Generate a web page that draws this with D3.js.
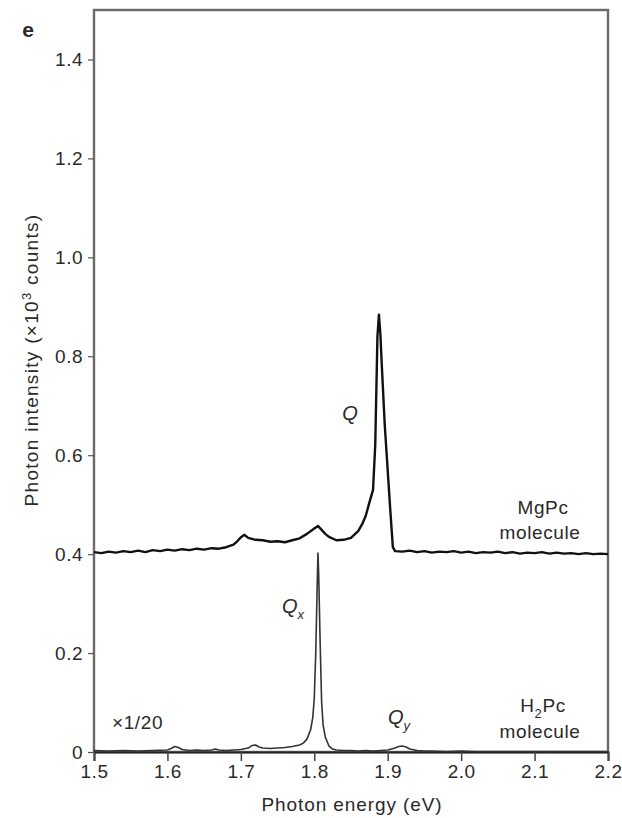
<!DOCTYPE html>
<html><head><meta charset="utf-8">
<script src="https://cdn.jsdelivr.net/npm/d3@7"></script>
<style>
body{margin:0;background:#fff;}
text{font-family:"Liberation Sans",Arial,sans-serif;fill:#2a2a2a;}
</style></head>
<body>
<svg id="c" width="622" height="818"></svg>
<script>
// Data
const xTicks = [1.5,1.6,1.7,1.8,1.9,2.0,2.1,2.2];
const yTicks = [0,0.2,0.4,0.6,0.8,1.0,1.2,1.4];
const yTickLabels = ["0","0.2","0.4","0.6","0.8","1.0","1.2","1.4"];

// MgPc molecule spectrum: [energy eV, intensity x10^3 counts]
const mgpcEnergy = [1.50,1.51,1.52,1.53,1.54,1.55,1.56,1.57,1.58,1.59,1.60,1.61,1.62,1.63,1.64,1.65,1.66,1.67,1.68,1.69,1.695,1.70,1.705,1.71,1.715,1.72,1.73,1.74,1.75,1.76,1.77,1.78,1.79,1.80,1.805,1.81,1.815,1.82,1.83,1.84,1.85,1.86,1.865,1.87,1.875,1.88,1.883,1.886,1.888,1.890,1.892,1.896,1.899,1.903,1.907,1.91,1.92,1.93,1.94,1.95,1.96,1.97,1.98,1.99,2.00,2.01,2.02,2.03,2.04,2.05,2.06,2.07,2.08,2.09,2.10,2.11,2.12,2.13,2.14,2.15,2.16,2.17,2.18,2.19,2.20];
const mgpcValues = [0.404,0.402,0.405,0.403,0.406,0.404,0.407,0.404,0.408,0.406,0.409,0.407,0.410,0.408,0.411,0.409,0.412,0.411,0.414,0.419,0.426,0.434,0.439,0.433,0.431,0.429,0.428,0.425,0.426,0.424,0.428,0.432,0.441,0.452,0.457,0.449,0.441,0.435,0.428,0.429,0.433,0.447,0.460,0.477,0.504,0.530,0.620,0.840,0.884,0.845,0.780,0.660,0.592,0.500,0.414,0.406,0.405,0.407,0.404,0.406,0.403,0.405,0.404,0.406,0.403,0.405,0.402,0.404,0.403,0.405,0.402,0.404,0.401,0.403,0.402,0.404,0.401,0.403,0.401,0.402,0.400,0.402,0.400,0.401,0.400];

// H2Pc molecule spectrum (x1/20)
const h2pcEnergy = [1.50,1.52,1.54,1.56,1.58,1.60,1.605,1.61,1.615,1.62,1.625,1.63,1.64,1.65,1.66,1.665,1.67,1.68,1.69,1.70,1.71,1.715,1.72,1.725,1.73,1.74,1.75,1.76,1.77,1.78,1.785,1.790,1.795,1.798,1.800,1.802,1.804,1.805,1.806,1.808,1.810,1.812,1.815,1.820,1.825,1.83,1.84,1.85,1.86,1.87,1.88,1.89,1.90,1.91,1.915,1.92,1.925,1.93,1.94,1.95,1.96,1.98,2.00,2.02,2.04,2.06,2.08,2.10,2.12,2.14,2.16,2.18,2.20];
const h2pcValues = [0.003,0.002,0.003,0.002,0.003,0.004,0.007,0.011,0.009,0.005,0.004,0.003,0.004,0.003,0.004,0.006,0.004,0.003,0.004,0.005,0.008,0.013,0.014,0.010,0.008,0.007,0.008,0.009,0.011,0.014,0.018,0.026,0.045,0.070,0.110,0.200,0.340,0.402,0.360,0.220,0.100,0.055,0.030,0.012,0.006,0.004,0.003,0.003,0.002,0.003,0.002,0.003,0.004,0.008,0.011,0.012,0.010,0.006,0.003,0.002,0.002,0.001,0.002,0.001,0.001,0.001,0.001,0.001,0.001,0.001,0.001,0.001,0.001];

const mgpc = mgpcEnergy.map((e,i)=>[e,mgpcValues[i]]);
const h2pc = h2pcEnergy.map((e,i)=>[e,h2pcValues[i]]);

const svg = d3.select("#c");
const L=94, R=608, T=10, B=752;
const FONT = "Liberation Sans, Arial, sans-serif";
const x = d3.scaleLinear().domain([1.5,2.2]).range([L,R]);
const y = d3.scaleLinear().domain([0,1.5]).range([B,T]);

// frame
svg.append("rect").attr("x",L).attr("y",T).attr("width",R-L).attr("height",B-T)
  .attr("fill","none").attr("stroke","#6a6a6a").attr("stroke-width",2.4);

// x axis
const xa = svg.append("g").attr("transform",`translate(0,${B})`)
  .call(d3.axisBottom(x).tickValues(xTicks).tickFormat(d3.format(".1f")).tickSize(9).tickPadding(4));
xa.select(".domain").attr("stroke","#222").attr("stroke-width",2);
xa.selectAll(".tick line").attr("stroke","#444").attr("stroke-width",1.5);
xa.selectAll(".tick text").attr("font-size",19).attr("font-family",FONT).attr("fill","#2a2a2a").attr("letter-spacing",0.5);

// y axis
const ya = svg.append("g").attr("transform",`translate(${L},0)`)
  .call(d3.axisLeft(y).tickValues(yTicks).tickFormat((d,i)=>yTickLabels[i]).tickSize(6).tickPadding(5));
ya.select(".domain").remove();
ya.selectAll(".tick line").attr("stroke","#555").attr("stroke-width",1.2);
ya.selectAll(".tick text").attr("font-size",19).attr("font-family",FONT).attr("fill","#2a2a2a").attr("letter-spacing",0.5);

const line = d3.line().x(d=>x(d[0])).y(d=>y(d[1]));
svg.append("path").datum(h2pc).attr("d",line).attr("fill","none")
  .attr("stroke","#333").attr("stroke-width",1.6).attr("stroke-linejoin","round");
svg.append("path").datum(mgpc).attr("d",line).attr("fill","none")
  .attr("stroke","#111").attr("stroke-width",2.4).attr("stroke-linejoin","round");

// labels
svg.append("text").attr("x",28).attr("y",37).attr("font-size",21).attr("font-weight","bold").attr("text-anchor","middle").text("e");

svg.append("text").attr("x",352).attr("y",811).attr("font-size",19).attr("letter-spacing",0.9).attr("text-anchor","middle").text("Photon energy (eV)");
const yl = svg.append("text").attr("transform","translate(38,360) rotate(-90)").attr("font-size",19).attr("letter-spacing",1.3).attr("text-anchor","middle");
yl.append("tspan").text("Photon intensity (×10");
yl.append("tspan").attr("font-size",13).attr("dy",-7).text("3");
yl.append("tspan").attr("dy",7).text(" counts)");

svg.append("text").attr("x",350).attr("y",420).attr("font-size",20).attr("font-style","italic").attr("text-anchor","middle").text("Q");
svg.append("text").attr("x",543).attr("y",514).attr("font-size",19).attr("letter-spacing",0.6).attr("text-anchor","middle").text("MgPc");
svg.append("text").attr("x",540).attr("y",539).attr("font-size",19).attr("letter-spacing",0.6).attr("text-anchor","middle").text("molecule");

const qx = svg.append("text").attr("x",282).attr("y",613).attr("font-size",20).attr("font-style","italic");
qx.append("tspan").text("Q");
qx.append("tspan").attr("font-size",13).attr("dy",6).text("x");
const qy = svg.append("text").attr("x",388).attr("y",724).attr("font-size",20).attr("font-style","italic");
qy.append("tspan").text("Q");
qy.append("tspan").attr("font-size",13).attr("dy",6).text("y");

svg.append("text").attr("x",112).attr("y",729).attr("font-size",19).attr("letter-spacing",0.6).text("×1/20");
const h2 = svg.append("text").attr("x",543).attr("y",712).attr("font-size",19).attr("letter-spacing",0.6).attr("text-anchor","middle");
h2.append("tspan").text("H");
h2.append("tspan").attr("font-size",13).attr("dy",6).text("2");
h2.append("tspan").attr("dy",-6).text("Pc");
svg.append("text").attr("x",540).attr("y",738).attr("font-size",19).attr("letter-spacing",0.6).attr("text-anchor","middle").text("molecule");
</script>
</body></html>
